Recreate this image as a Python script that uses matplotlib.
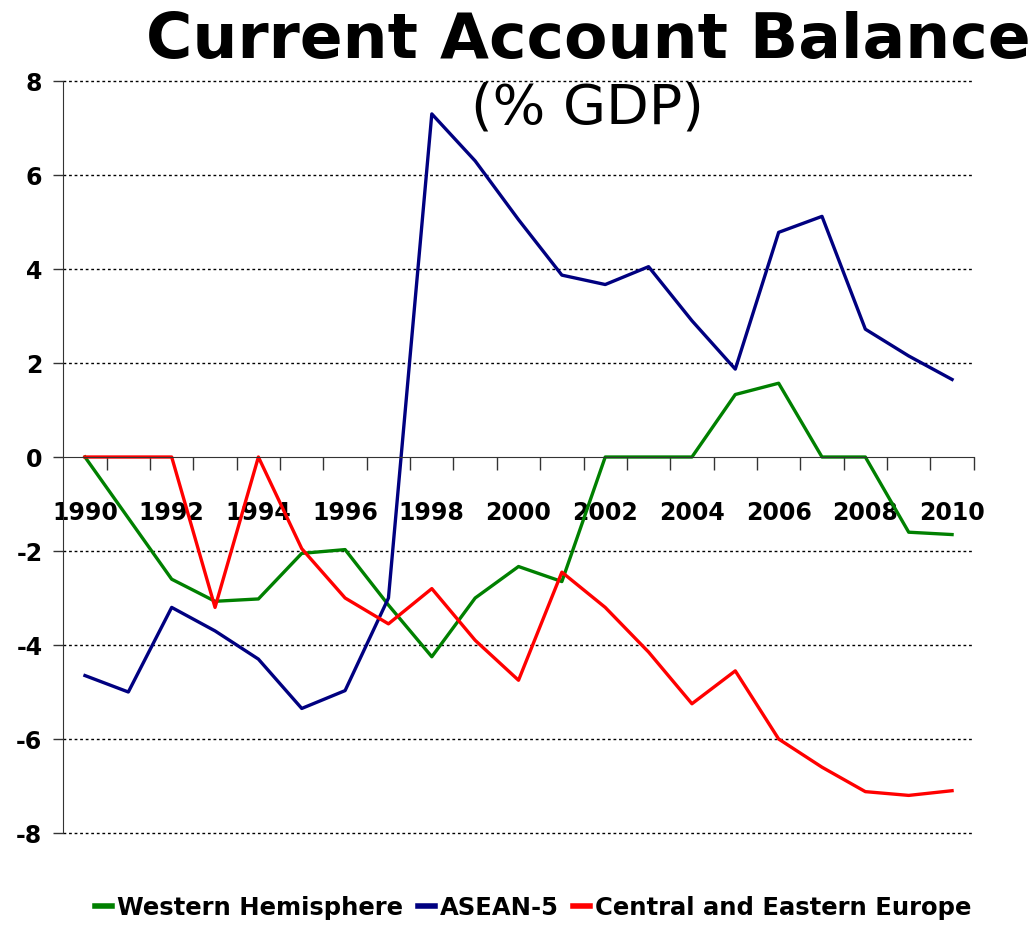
import numpy as np
import matplotlib.pyplot as plt

plt.rcParams['font.family'] = 'DejaVu Sans'

years = list(range(1990, 2011))
western = [0, -1.3, -2.6, -3.07, -3.02, -2.05, -1.97, -3.15, -4.25, -3.0, -2.33,
           -2.65, 0, 0, 0, 1.33, 1.57, 0, 0, -1.6, -1.65]
asean = [-4.65, -5.0, -3.2, -3.7, -4.3, -5.35, -4.97, -3.0, 7.3, 6.3, 5.05,
         3.87, 3.67, 4.05, 2.9, 1.87, 4.78, 5.12, 2.72, 2.15, 1.65]
cee = [0, 0, 0, -3.2, 0, -1.95, -3.0, -3.55, -2.8, -3.9, -4.75,
       -2.45, -3.2, -4.15, -5.25, -4.55, -6.0, -6.6, -7.12, -7.2, -7.1]
yticks = [-8, -6, -4, -2, 0, 2, 4, 6, 8]

fig = plt.figure(figsize=(10.36, 9.27), dpi=100)
ax = fig.add_axes([0.0611, 0.1014, 0.8788, 0.8112])

ax.plot(years, western, color='#008000', lw=2.4, label='Western Hemisphere')
ax.plot(years, asean, color='#000080', lw=2.4, label='ASEAN-5')
ax.plot(years, cee, color='#ff0000', lw=2.4, label='Central and Eastern Europe')

ax.set_xlim(1989.5, 2010.5)
ax.set_ylim(-8, 8)
for v in yticks:
    if v != 0:
        ax.axhline(v, color='black', lw=1, ls=(0, (2, 2)), zorder=0, clip_on=False)

ax.spines['top'].set_visible(False)
ax.spines['right'].set_visible(False)
ax.spines['bottom'].set_position(('data', 0))
ax.spines['bottom'].set_color('#333333')
ax.spines['left'].set_color('#333333')

ax.set_yticks(yticks)
ax.set_yticklabels([str(v) for v in yticks], fontsize=17, fontweight='bold')
ax.tick_params(axis='y', length=7, width=1, pad=8, color='#333333')

ax.set_xticks(years[::2])
ax.set_xticklabels([str(y) for y in years[::2]], fontsize=17, fontweight='bold')
ax.set_xticks(np.arange(1990.5, 2010.6, 1), minor=True)
ax.tick_params(axis='x', which='major', length=0, pad=32)
ax.tick_params(axis='x', which='minor', length=9, width=1, color='#333333')

fig.text(0.568, 0.956, 'Current Account Balance', ha='center', va='center',
         fontsize=45.5, fontweight='bold')
fig.text(0.567, 0.883, '(% GDP)', ha='center', va='center', fontsize=40)

leg = fig.legend(loc='center', bbox_to_anchor=(0.515, 0.021), ncol=3, frameon=False,
                 prop={'size': 17.5, 'weight': 'bold'}, handlelength=0.7,
                 handletextpad=0.2, columnspacing=0.6)
for line in leg.get_lines():
    line.set_linewidth(4)

fig.savefig('out.png', dpi=100)
